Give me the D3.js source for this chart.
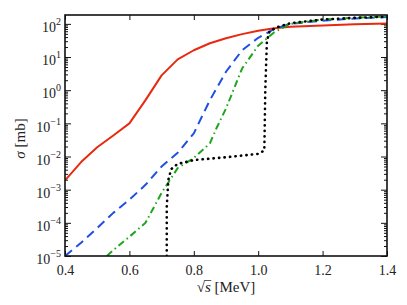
<!DOCTYPE HTML>
<html>
  <head>
    <style>
      body { margin: 0px; background: #fff; }
      text { font-family: "Liberation Serif", "DejaVu Serif", serif; fill: #222; }
    </style>
  </head>
  <body>
    <script type="text/javascript" src="https://cdn.jsdelivr.net/npm/d3@7/dist/d3.min.js"></script>
    <script>

      // *** DATA ***
      var redX = [0.40, 0.45, 0.50, 0.55, 0.60, 0.65, 0.70, 0.75, 0.80, 0.85, 0.90, 0.95, 1.00, 1.05, 1.10, 1.20, 1.30, 1.40];
      var redY = [1.9e-3, 6.8e-3, 1.9e-2, 4.3e-2, 0.1, 0.5, 2.8, 8.5, 16, 26, 37, 49, 62, 74, 82, 90, 97, 103];

      var blueX = [0.40, 0.45, 0.50, 0.55, 0.60, 0.65, 0.70, 0.75, 0.80, 0.85, 0.90, 0.95, 1.00, 1.05, 1.10, 1.20, 1.30, 1.40];
      var blueY = [1e-5, 2.5e-5, 7e-5, 2e-4, 5e-4, 1.4e-3, 5e-3, 1.3e-2, 5e-2, 0.5, 3.6, 16, 38, 70, 100, 125, 145, 160];

      var greenX = [0.53, 0.55, 0.60, 0.65, 0.70, 0.75, 0.80, 0.85, 0.87, 0.90, 0.95, 1.00, 1.05, 1.10, 1.20, 1.30, 1.40];
      var greenY = [1e-5, 1.5e-5, 3.8e-5, 1e-4, 8e-4, 4.5e-3, 9e-3, 2.5e-2, 7e-2, 0.28, 4.5, 22, 56, 100, 135, 152, 168];

      var blackX = [0.716, 0.716, 0.721, 0.73, 0.75, 0.80, 0.90, 1.00, 1.012, 1.019, 1.022, 1.027, 1.035, 1.06, 1.10, 1.20, 1.30, 1.40];
      var blackY = [1e-5, 3e-4, 2e-3, 4.2e-3, 6e-3, 7.8e-3, 9.5e-3, 1.2e-2, 1.4e-2, 1.5e-2, 1, 30, 60, 80, 105, 135, 152, 165];

      var xTicks = [0.4, 0.6, 0.8, 1.0, 1.2, 1.4];
      var yTicks = [1e-5, 1e-4, 1e-3, 1e-2, 1e-1, 1e0, 1e1, 1e2];
      var yExps = ["\u22125", "\u22124", "\u22123", "\u22122", "\u22121", "0", "1", "2"];

      // *** LAYOUT ***
      var W = 407, H = 305;
      var m = {left: 65, top: 15, right: 20, bottom: 49};
      var pw = W - m.left - m.right, ph = H - m.top - m.bottom;

      var x = d3.scaleLinear().domain([0.4, 1.4]).range([0, pw]);
      var y = d3.scaleLog().domain([1e-5, 185]).range([ph, 0]);

      var svg = d3.select("body").append("svg")
        .attr("width", W).attr("height", H);
      var g = svg.append("g").attr("transform", "translate(" + m.left + "," + m.top + ")");

      // minor log ticks
      var minors = [];
      for (var e = -5; e <= 2; e++) {
        for (var k = 2; k <= 9; k++) {
          var v = k * Math.pow(10, e);
          if (v <= 185) minors.push(v);
        }
      }

      // *** AXES ***
      var xb = g.append("g").attr("transform", "translate(0," + ph + ")")
        .call(d3.axisBottom(x).tickValues(xTicks).tickSizeInner(-5).tickSizeOuter(0).tickPadding(9)
          .tickFormat(d3.format(".1f")));
      g.append("g")
        .call(d3.axisTop(x).tickValues(xTicks).tickSizeInner(-5).tickSizeOuter(0).tickFormat(""));

      var yl = g.append("g")
        .call(d3.axisLeft(y).tickValues(yTicks).tickSizeInner(-6).tickSizeOuter(0).tickPadding(4));
      g.append("g")
        .call(d3.axisLeft(y).tickValues(minors).tickSizeInner(-3).tickSizeOuter(0).tickFormat(""));
      g.append("g").attr("transform", "translate(" + pw + ",0)")
        .call(d3.axisRight(y).tickValues(yTicks).tickSizeInner(-6).tickSizeOuter(0).tickFormat(""));
      g.append("g").attr("transform", "translate(" + pw + ",0)")
        .call(d3.axisRight(y).tickValues(minors).tickSizeInner(-3).tickSizeOuter(0).tickFormat(""));

      g.selectAll(".domain").remove();
      g.selectAll(".tick line").attr("stroke", "#111").attr("stroke-width", 1);

      xb.selectAll(".tick text").attr("font-size", 14).attr("fill", "#333")
        .attr("font-family", "Liberation Serif");

      // y labels as 10^n
      yl.selectAll(".tick text").each(function(d, i) {
        var t = d3.select(this).text(null).attr("font-size", 14).attr("fill", "#333")
          .attr("font-family", "Liberation Serif").attr("dy", "0.55em");
        t.append("tspan").text("10");
        t.append("tspan").attr("font-size", 10).attr("dy", -7).text(yExps[i]);
      });

      // *** LINES ***
      var line = d3.line()
        .x(function(d) { return x(d[0]); })
        .y(function(d) { return y(d[1]); });

      var clip = g.append("clipPath").attr("id", "clip")
        .append("rect").attr("width", pw).attr("height", ph);
      var lines = g.append("g").attr("clip-path", "url(#clip)");

      function draw(xs, ys, color, dash, width, cap) {
        lines.append("path")
          .datum(d3.zip(xs, ys))
          .attr("d", line)
          .attr("fill", "none")
          .attr("stroke", color)
          .attr("stroke-width", width)
          .attr("stroke-dasharray", dash)
          .attr("stroke-linecap", cap)
          .attr("stroke-linejoin", "round");
      }

      draw(redX, redY, "#e8290f", null, 2, "butt");
      draw(blueX, blueY, "#1f4fe0", "9,5.5", 2, "butt");
      draw(greenX, greenY, "#1ea51e", "7,3.5,1.5,3.5", 2, "butt");
      draw(blackX, blackY, "#000", "0.3,5.2", 2.6, "round");

      // frame
      g.append("rect").attr("width", pw).attr("height", ph)
        .attr("fill", "none").attr("stroke", "#111").attr("stroke-width", 1.6);

      // *** AXIS TITLES ***
      var yt = svg.append("text")
        .attr("transform", "translate(25," + (m.top + ph / 2 + 3) + ") rotate(-90)")
        .attr("text-anchor", "middle").attr("font-size", 15).attr("fill", "#333");
      yt.append("tspan").attr("font-style", "italic").text("\u03c3");
      yt.append("tspan").text(" [mb]");

      var xt = svg.append("text")
        .attr("x", m.left + pw / 2).attr("y", 292)
        .attr("text-anchor", "middle").attr("font-size", 15).attr("fill", "#333");
      xt.append("tspan").text("\u221a");
      xt.append("tspan").attr("font-style", "italic").text("s");
      xt.append("tspan").text(" [MeV]");

      // overline for the radical
      var node = xt.node();
      var s0 = node.getStartPositionOfChar(1).x, s1 = node.getEndPositionOfChar(1).x;
      svg.append("line")
        .attr("x1", s0 - 0.5).attr("x2", s1 + 0.5)
        .attr("y1", 280.5).attr("y2", 280.5)
        .attr("stroke", "#333").attr("stroke-width", 0.8);

    </script>
  </body>
</html>
